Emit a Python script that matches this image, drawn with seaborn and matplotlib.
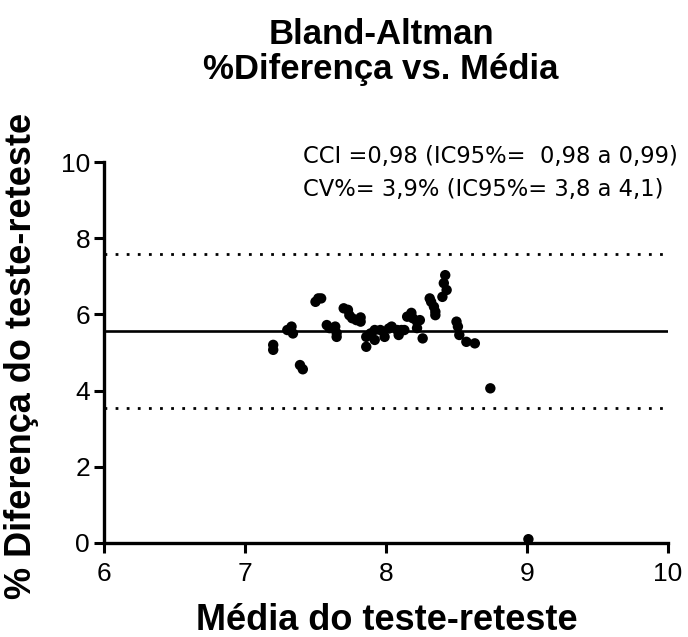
import matplotlib
matplotlib.use("Agg")
import matplotlib.pyplot as plt
import seaborn as sns
import pandas as pd

# ---- data ----
media = [7.20, 7.20,
         7.30, 7.33, 7.34,
         7.39, 7.41,
         7.50, 7.52, 7.54,
         7.58, 7.60, 7.64, 7.65, 7.65,
         7.70, 7.73, 7.74, 7.76, 7.79, 7.82, 7.82,
         7.86, 7.86, 7.89, 7.92, 7.92, 7.96, 7.99, 8.02, 8.04, 8.08, 8.09, 8.11, 8.13,
         8.15, 8.18, 8.19, 8.22, 8.24, 8.22, 8.26,
         8.31, 8.32, 8.34, 8.35, 8.35, 8.40, 8.41, 8.42, 8.43,
         8.50, 8.51, 8.52, 8.57, 8.63,
         8.74, 9.01]
diferenca = [5.20, 5.07,
             5.59, 5.68, 5.50,
             4.67, 4.56,
             6.33, 6.42, 6.42,
             5.72, 5.64, 5.68, 5.51, 5.41,
             6.16, 6.12, 5.98, 5.90, 5.85, 5.92, 5.81,
             5.41, 5.15, 5.50, 5.59, 5.33, 5.59, 5.41, 5.63, 5.68, 5.59, 5.46, 5.59, 5.59,
             5.94, 6.04, 5.90, 5.81, 5.85, 5.64, 5.37,
             6.42, 6.33, 6.20, 6.07, 5.98, 6.46, 6.82, 7.03, 6.64,
             5.81, 5.68, 5.46, 5.28, 5.24,
             4.06, 0.10]
vies = 5.565
limite_sup = 7.59
limite_inf = 3.54

x_ticks = [6, 7, 8, 9, 10]
y_ticks = [0, 2, 4, 6, 8, 10]

titulo = "Bland-Altman\n%Diferença vs. Média"
xlabel = "Média do teste-reteste"
ylabel = "% Diferença do teste-reteste"
anot1 = "CCI =0,98 (IC95%=  0,98 a 0,99)"
anot2 = "CV%= 3,9% (IC95%= 3,8 a 4,1)"

df = pd.DataFrame({"media": media, "diferenca": diferenca})

sns.set_theme(style="ticks")
plt.rcParams['font.family'] = ['Liberation Sans', 'DejaVu Sans']
plt.rcParams['text.color'] = 'black'
plt.rcParams['axes.labelcolor'] = 'black'
plt.rcParams['xtick.color'] = 'black'
plt.rcParams['ytick.color'] = 'black'

fig = plt.figure(figsize=(6.88, 6.37), dpi=100)
ax = fig.add_axes([104/688, 1 - 543/637, 564/688, 381/637])

ax.axhline(vies, color="black", lw=1.9, zorder=1)
ax.axhline(limite_sup, color="black", lw=2.0, ls=(0, (1, 3)), zorder=1)
ax.axhline(limite_inf, color="black", lw=2.0, ls=(0, (1, 3)), zorder=1)

sns.scatterplot(data=df, x="media", y="diferenca", ax=ax, color="black",
                s=56, edgecolor="none", zorder=3, clip_on=False)

ax.set_xlim(6, 10)
ax.set_ylim(0, 10)
ax.set_xticks(x_ticks)
ax.set_yticks(y_ticks)
ax.set_xticklabels([str(v) for v in x_ticks])
ax.set_yticklabels([str(v) for v in y_ticks])
ax.tick_params(axis="both", direction="out", length=7, width=2.2,
               labelsize=19, color="black", labelcolor="black")
ax.tick_params(axis="x", pad=7)
ax.tick_params(axis="y", pad=3)
for side in ["top", "right"]:
    ax.spines[side].set_visible(False)
for side in ["left", "bottom"]:
    ax.spines[side].set_linewidth(2.4)
    ax.spines[side].set_color("black")
ax.set_xlabel("")
ax.set_ylabel("")

fig.text(381/688, 1 - 52/637, titulo, ha="center", va="center",
         fontsize=25, fontweight="bold", linespacing=1.1)
fig.text(387/688, 1 - 620/637, xlabel, ha="center", va="center",
         fontsize=26, fontweight="bold")
fig.text(22/688, 1 - 356/637, ylabel, ha="center", va="center",
         fontsize=26, fontweight="bold", rotation=90)
fig.text(303/688, 1 - 157/637, anot1, ha="left", va="center", fontsize=16.3,
         family=['DejaVu Sans'])
fig.text(303/688, 1 - 189/637, anot2, ha="left", va="center", fontsize=16.3,
         family=['DejaVu Sans'])

fig.savefig("out.png", dpi=100, facecolor="white")
